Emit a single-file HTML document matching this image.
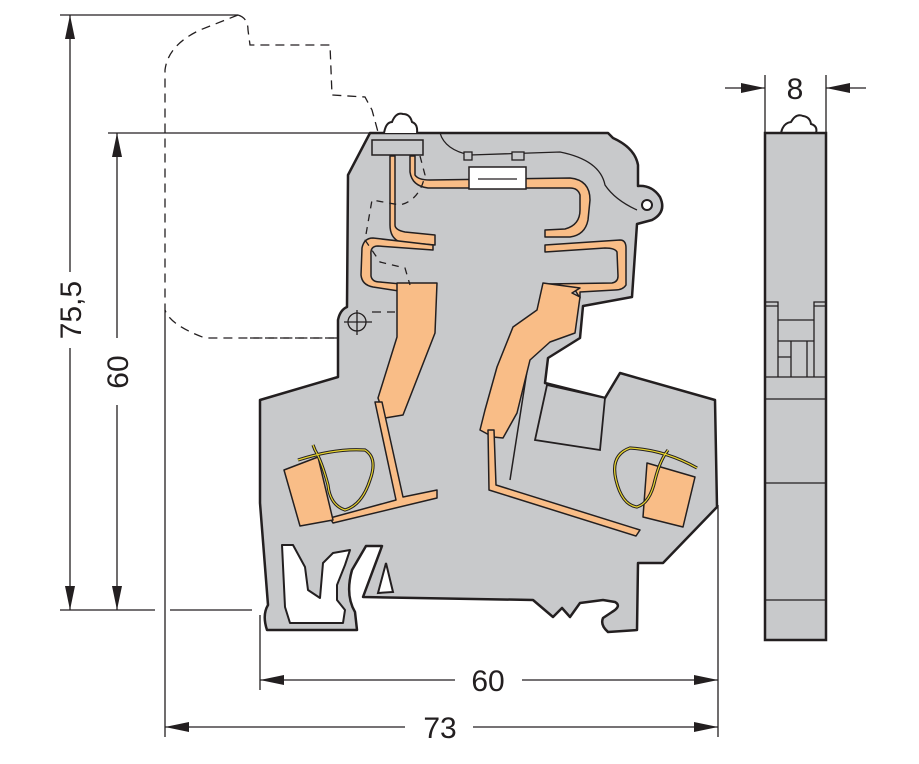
<!DOCTYPE html>
<html><head><style>
html,body{margin:0;padding:0;background:#fff;width:919px;height:764px;overflow:hidden}
svg{display:block}
text{font-family:"Liberation Sans",sans-serif;font-size:30px;fill:#231f20}
</style></head><body>
<svg width="919" height="764" viewBox="0 0 919 764" xmlns="http://www.w3.org/2000/svg">
<defs>
<marker id="b" viewBox="0 0 24 10" refX="24" refY="5" markerWidth="24" markerHeight="10" orient="auto-start-reverse" markerUnits="userSpaceOnUse"><path d="M0,0 L24,5 L0,10 z" fill="#231f20"/></marker>
</defs>
<g stroke="#231f20" stroke-width="1.3" fill="none">
<line x1="60" y1="15" x2="238" y2="15"/>
<line x1="108" y1="133" x2="380" y2="133"/>
<line x1="60" y1="610" x2="155" y2="610"/>
<line x1="170" y1="610" x2="252" y2="610"/>
<line x1="165" y1="310" x2="165" y2="737"/>
<line x1="260" y1="615" x2="260" y2="690"/>
<line x1="718" y1="505" x2="718" y2="737"/>
<line x1="765" y1="75" x2="765" y2="133"/>
<line x1="826" y1="75" x2="826" y2="133"/>
<line x1="70" y1="15" x2="70" y2="272" marker-start="url(#b)"/>
<line x1="70" y1="348" x2="70" y2="610" marker-end="url(#b)"/>
<line x1="117" y1="133" x2="117" y2="338" marker-start="url(#b)"/>
<line x1="117" y1="405" x2="117" y2="610" marker-end="url(#b)"/>
<line x1="260" y1="680" x2="455" y2="680" marker-start="url(#b)"/>
<line x1="522" y1="680" x2="718" y2="680" marker-end="url(#b)"/>
<line x1="165" y1="727" x2="405" y2="727" marker-start="url(#b)"/>
<line x1="473" y1="727" x2="718" y2="727" marker-end="url(#b)"/>
<line x1="725" y1="88" x2="765" y2="88" marker-end="url(#b)"/>
<line x1="866" y1="88" x2="826" y2="88" marker-end="url(#b)"/>
</g>
<text x="488" y="691" text-anchor="middle">60</text>
<text x="440" y="738" text-anchor="middle">73</text>
<text x="795" y="99" text-anchor="middle">8</text>
<text transform="translate(81,310) rotate(-90)" text-anchor="middle">75,5</text>
<text transform="translate(128,372) rotate(-90)" text-anchor="middle">60</text>

<path d="M238,15 Q248,18 248,30 L250,45 L330,45 L332,95 L365,97 L372,110 L378,132 M238,15 L200,30 Q168,45 165,70 L165,310 Q170,325 205,338 L338,338" stroke="#231f20" stroke-width="1.3" fill="none" stroke-dasharray="9,6"/>

<path d="M370,133 L608,133 L613,138 Q635,148 638,165 L638,186 Q652,185 660,197 Q667,212 652,220 L637,224 L632,297 L583,306 L580,338 L548,358 L545,383 L605,398 L620,373 L715,400 L717,507 L663,563 L638,563 L637,630 L608,632 Q600,625 603,618 L612,612 Q622,606 615,602 L603,600 L580,603 L570,617 L562,608 L553,617 L533,600 L363,597 L382,546 L366,546 L352,570 Q345,595 355,612 L357,630 L267,630 Q262,615 268,605 L260,503 L260,400 L338,377 L338,320 Q340,310 347,307 L348,175 Z" fill="#c8c9cb" stroke="#231f20" stroke-width="2.5" stroke-linejoin="round"/>
<path d="M282,545 L293,545 L305,567 L308,590 L320,598 L323,563 L333,553 L350,550 L345,565 L337,585 L337,600 L345,610 L343,623 L290,623 L285,607 Z" fill="#fff" stroke="#231f20" stroke-width="2" stroke-linejoin="round"/>
<path d="M386,563 L393,592 L378,593 Z" fill="#fff" stroke="#231f20" stroke-width="2"/>
<path d="M547,385 L605,398 L600,450 L535,440 Z" fill="#c8c9cb" stroke="#231f20" stroke-width="1.8"/>
<line x1="530" y1="352" x2="510" y2="480" stroke="#231f20" stroke-width="1.5"/>
<path d="M372,140 L423,140 L423,155 L372,155 Z" fill="#c8c9cb" stroke="#231f20" stroke-width="1.5"/>
<path d="M440,133 Q445,150 470,155 L560,152 Q600,160 605,185 Q615,200 637,210" fill="none" stroke="#231f20" stroke-width="1.3"/>
<rect x="464" y="152" width="8" height="8" fill="#c8c9cb" stroke="#231f20" stroke-width="1.3"/>
<rect x="512" y="152" width="12" height="8" fill="#c8c9cb" stroke="#231f20" stroke-width="1.3"/>
<circle cx="647" cy="205" r="5" fill="#fff" stroke="#231f20" stroke-width="2"/>
<path d="M384,133 Q386,122 392,122 Q396,112 403,114 Q410,114 412,122 Q418,124 417,133" fill="#fff" stroke="#231f20" stroke-width="2"/>

<g fill="#f9bd87" stroke="#231f20" stroke-width="1.5" stroke-linejoin="round">
<path d="M390,156 L395,156 L395,225 Q395,230 405,232 L435,235 L435,245 L400,242 Q390,238 390,225 Z"/>
<path d="M410,156 L415,156 L415,175 Q418,180 430,180 L570,178 Q590,180 590,200 L588,220 Q585,235 570,237 L545,237 L545,230 L565,229 Q580,225 580,210 L580,195 Q578,188 570,188 L428,188 Q412,186 410,172 Z"/>
<path d="M373,238 L433,245 L433,250 L378,246 Q370,246 371,255 L371,276 Q372,282 380,282 L412,285 L412,293 L373,287 Q362,285 361,275 L362,248 Q364,238 373,238 Z"/>
<path d="M545,245 L620,240 Q626,240 626,248 L626,285 Q623,290 615,290 L580,292 L580,298 L575,290 L545,290 L545,284 L612,283 Q618,282 618,276 L617,252 Q615,248 605,248 L545,252 Z"/>
<path d="M397,283 L437,283 L435,333 L403,415 L385,418 L378,398 L397,337 Z"/>
<path d="M543,283 L580,288 L572,293 L580,297 L575,333 L550,342 L530,360 L517,413 L503,438 L493,437 L480,430 L485,410 L497,367 L513,327 L537,310 Z"/>
<path d="M375,402 L382,402 L403,497 L437,490 L437,498 L333,523 L330,518 L396,500 Z"/>
<path d="M488,430 L494,430 L496,485 L640,530 L636,536 L489,490 Z"/>
<path d="M284,470 L318,457 L333,520 L300,526 Z"/>
<path d="M647,463 L695,477 L683,527 L643,517 Z"/>
</g>
<g fill="none" stroke="#231f20" stroke-width="3.2">
<path d="M298,460 Q335,448 365,450 Q378,458 370,480 Q362,505 345,510 Q330,505 328,485 Q322,462 315,450 L313,445"/>
<path d="M697,468 Q665,450 630,448 Q610,455 616,480 Q622,505 637,507 Q650,503 655,480 Q660,460 668,450"/>
</g>
<g fill="none" stroke="#e8d530" stroke-width="1.2">
<path d="M298,460 Q335,448 365,450 Q378,458 370,480 Q362,505 345,510 Q330,505 328,485 Q322,462 315,450 L313,445"/>
<path d="M697,468 Q665,450 630,448 Q610,455 616,480 Q622,505 637,507 Q650,503 655,480 Q660,460 668,450"/>
</g>
<rect x="469" y="167" width="57" height="22" fill="#fff" stroke="#231f20" stroke-width="1.5"/>
<line x1="478" y1="179" x2="517" y2="179" stroke="#231f20" stroke-width="1.2"/>
<circle cx="357" cy="322" r="9" fill="none" stroke="#231f20" stroke-width="1.3"/>
<path d="M344,322 L372,322 M357,310 L357,335" stroke="#231f20" stroke-width="1.3"/>
<path d="M250,338 L338,338 M372,312 L395,312" stroke="#231f20" stroke-width="1.3" stroke-dasharray="9,6"/>
<path d="M420,156 L425,175 Q420,200 400,205 L372,200 L365,240 L380,262 L405,268 L410,285" fill="none" stroke="#231f20" stroke-width="1.3" stroke-dasharray="7,6"/>

<path d="M781,133 Q783,123 791,122 Q796,113 803,116 Q810,117 811,124 Q818,126 816,133" fill="#fff" stroke="#231f20" stroke-width="2"/>
<rect x="765" y="133" width="61" height="507" fill="#c8c9cb" stroke="#231f20" stroke-width="2.5"/>
<g stroke="#231f20" stroke-width="1.3" fill="none">
<path d="M766,302 L778,302 L778,377 M825,302 L814,302 L814,377 M766,306 L778,306 M825,306 L814,306"/>
<path d="M778,320 L814,320 M778,341 L814,341 M778,357 L791,357 M791,341 L791,377 M807,341 L807,377"/>
<path d="M766,377 L825,377 M766,399 L825,399 M766,483 L825,483 M766,600 L825,600"/>
</g>
</svg>
</body></html>
